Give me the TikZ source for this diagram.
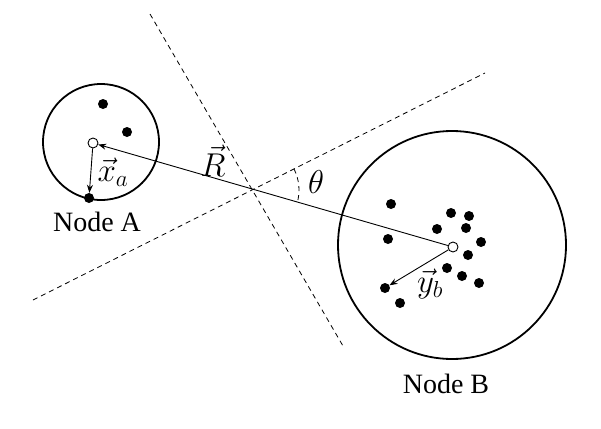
\documentclass[tikz,border=0pt]{standalone}
\usepackage{fix-cm}
\usepackage{fontspec}
\setmainfont{Liberation Serif}
\usepackage{tikz}
\usetikzlibrary{arrows.meta,calc}

\begin{document}
\begin{tikzpicture}[x=1pt, y=-1pt,
                   lbl/.style={font=\fontsize{28}{32}\selectfont, inner sep=0pt},
                   mlbl/.style={font=\fontsize{33}{36}\selectfont, inner sep=0pt},
                   blob/.style={circle, draw, line width=1.8pt},
                   dot/.style={circle, fill=black, inner sep=0pt, minimum size=10pt},
                   hollow/.style={circle, draw, fill=white, inner sep=0pt, minimum size=10pt, line width=0.9pt},
                   vec/.style={-{Stealth[length=8pt, width=6pt]}, line width=0.9pt},
                   guide/.style={dashed, line width=0.8pt, dash pattern=on 5pt off 4pt}]
    \useasboundingbox (0,0) rectangle (601,428);
    % dashed guide lines
    \coordinate (l1a) at (150,14);
    \coordinate (l1b) at (343,346);
    \coordinate (l2a) at (33,300);
    \coordinate (l2b) at (485,73);
    \coordinate (cross) at (252,190);
    \draw[guide] (l1a) -- (l1b);
    \draw[guide] (l2a) -- (l2b);
    % the two nodes
    \draw[blob] (101,142) circle[radius=58];
    \draw[blob] (452,245) circle[radius=114];
    % particles of node A
    \node[dot] (a1) at (103,104) {};
    \node[dot] (a2) at (127,132) {};
    \node[dot] (ax) at (89,198) {};
    % particles of node B
    \node[dot] (b1) at (391,204) {};
    \node[dot] (b2) at (388,239) {};
    \node[dot] (b3) at (451,213) {};
    \node[dot] (b4) at (469,216) {};
    \node[dot] (b5) at (437,229) {};
    \node[dot] (b6) at (466,228) {};
    \node[dot] (b7) at (481,242) {};
    \node[dot] (b8) at (468,255) {};
    \node[dot] (b9) at (447,268) {};
    \node[dot] (b10) at (462,276) {};
    \node[dot] (b11) at (479,283) {};
    \node[dot] (by) at (385,288) {};
    \node[dot] (b12) at (400,303) {};
    % centres
    \node[hollow] (ca) at (93,143) {};
    \node[hollow] (cb) at (453,247) {};
    % vectors
    \draw[vec] (cb) -- (ca);
    \draw[vec] (ca) -- (ax);
    \draw[vec] (cb) -- (by);
    % angle
    \draw[guide] ($(cross)+(-26.7:47)$) arc[start angle=-26.7, end angle=16.1, radius=47];
    % labels
    \node[mlbl] (lR) at (213,161) {$\vec{R}$};
    \node[mlbl] (lth) at (316,182) {$\theta$};
    \node[mlbl] (lxa) at (113,172) {$\vec{x}_a$};
    \node[mlbl] (lyb) at (430,284) {$\vec{y}_b$};
    \node[lbl] (nA) at (97,222) {Node A};
    \node[lbl] (nB) at (446,384) {Node B};
\end{tikzpicture}
\end{document}
